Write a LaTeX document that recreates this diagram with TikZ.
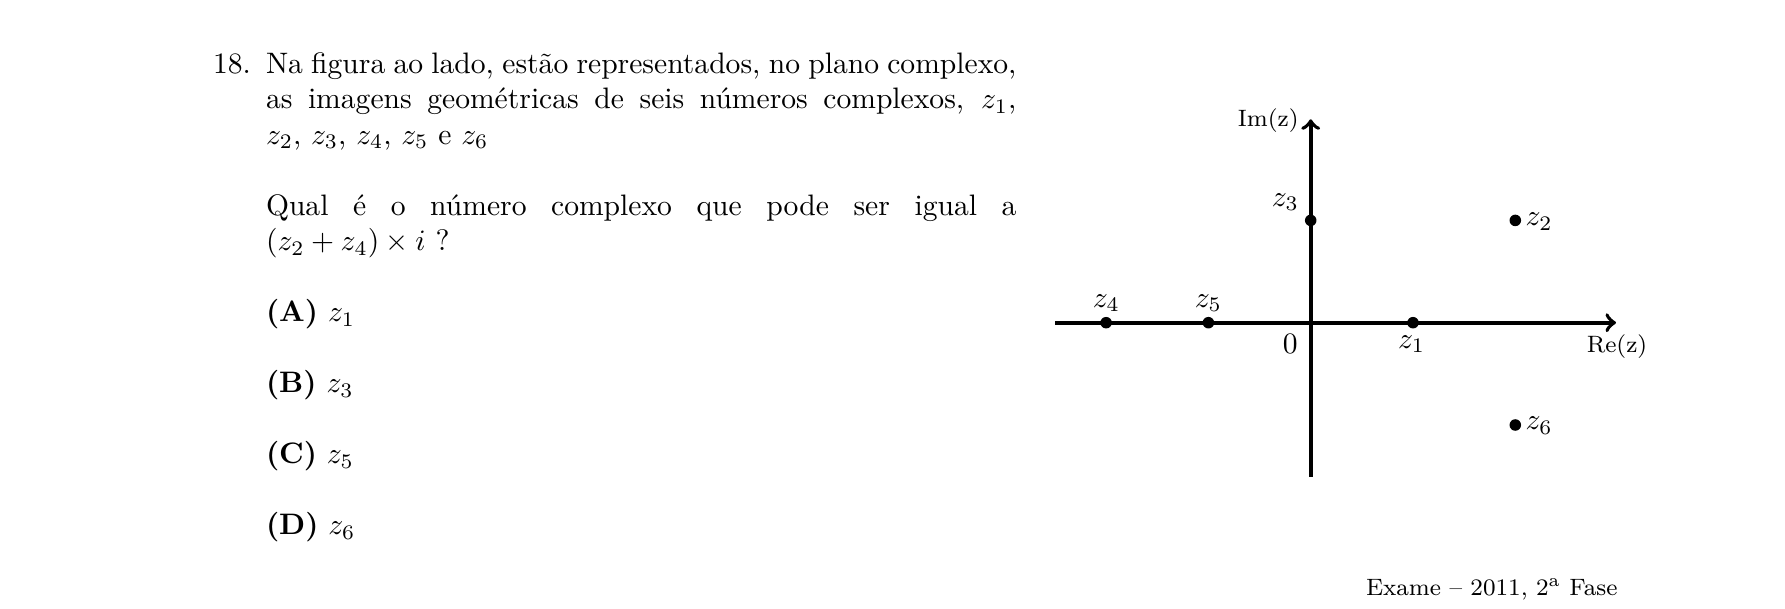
\documentclass[tikz,border=0pt]{standalone}
\newlength\tw
\setlength\tw{253.5pt}
\tikzset{
  txt/.style={anchor=base west, inner sep=0pt, outer sep=0pt},
  axis/.style={line width=1.3pt, ->},
  dot/.style={circle, fill=black, inner sep=0pt, minimum size=3.9pt},
  lbl/.style={anchor=center, inner sep=0pt},
  axlbl/.style={anchor=center, inner sep=0pt, font=\footnotesize},
}
\begin{document}
\begin{tikzpicture}[x=0.3378pt, y=-0.3378pt]
\useasboundingbox (0,0) rectangle (1785,609);
% question text
\node[txt] (num) at (213,73.3) {18.};
\node[txt] (l1) at (266,73.3) {\makebox[\tw][s]{Na figura ao lado, estão representados, no plano complexo,}};
\node[txt] (l2) at (266,108.8) {\makebox[\tw][s]{as imagens geométricas de seis números complexos, $z_1$,}};
\node[txt] (l3) at (266,144.3) {$z_2$, $z_3$, $z_4$, $z_5$ e $z_6$};
\node[txt] (l4) at (266,215.3) {\makebox[\tw][s]{Qual é o número complexo que pode ser igual a}};
\node[txt] (l5) at (266,250.8) {$(z_2+z_4)\times i$ ?};
% options
\node[txt] (oa) at (266,321.8) {\textbf{(A)} $z_1$};
\node[txt] (ob) at (266,392.8) {\textbf{(B)} $z_3$};
\node[txt] (oc) at (266,463.8) {\textbf{(C)} $z_5$};
\node[txt] (od) at (266,534.8) {\textbf{(D)} $z_6$};
% source
\node[txt, font=\footnotesize] (src) at (1366,595) {Exame -- 2011, 2\textsuperscript{a} Fase};
% axes
\coordinate (xl) at (1055,322.7);
\coordinate (xr) at (1616,322.7);
\coordinate (yb) at (1310.7,476.7);
\coordinate (yt) at (1310.7,119.3);
\draw[axis] (xl) -- (xr);
\draw[axis] (yb) -- (yt);
\node[axlbl] (im) at (1268.3,120.7) {Im(z)};
\node[axlbl] (re) at (1617,347) {Re(z)};
\node[lbl] (zero) at (1290.3,344) {$0$};
% points
\node[dot] (p1) at (1413,322.7) {};
\node[dot] (p2) at (1515.3,220.4) {};
\node[dot] (p3) at (1310.7,220.4) {};
\node[dot] (p4) at (1106.1,322.7) {};
\node[dot] (p5) at (1208.4,322.7) {};
\node[dot] (p6) at (1515.3,425) {};
\node[lbl] (t1) at (1411.7,344) {$z_1$};
\node[lbl] (t2) at (1539.2,221.7) {$z_2$};
\node[lbl] (t3) at (1285.3,202.3) {$z_3$};
\node[lbl] (t4) at (1106.3,303.3) {$z_4$};
\node[lbl] (t5) at (1208.3,303.3) {$z_5$};
\node[lbl] (t6) at (1539.2,425.8) {$z_6$};
\end{tikzpicture}
\end{document}
